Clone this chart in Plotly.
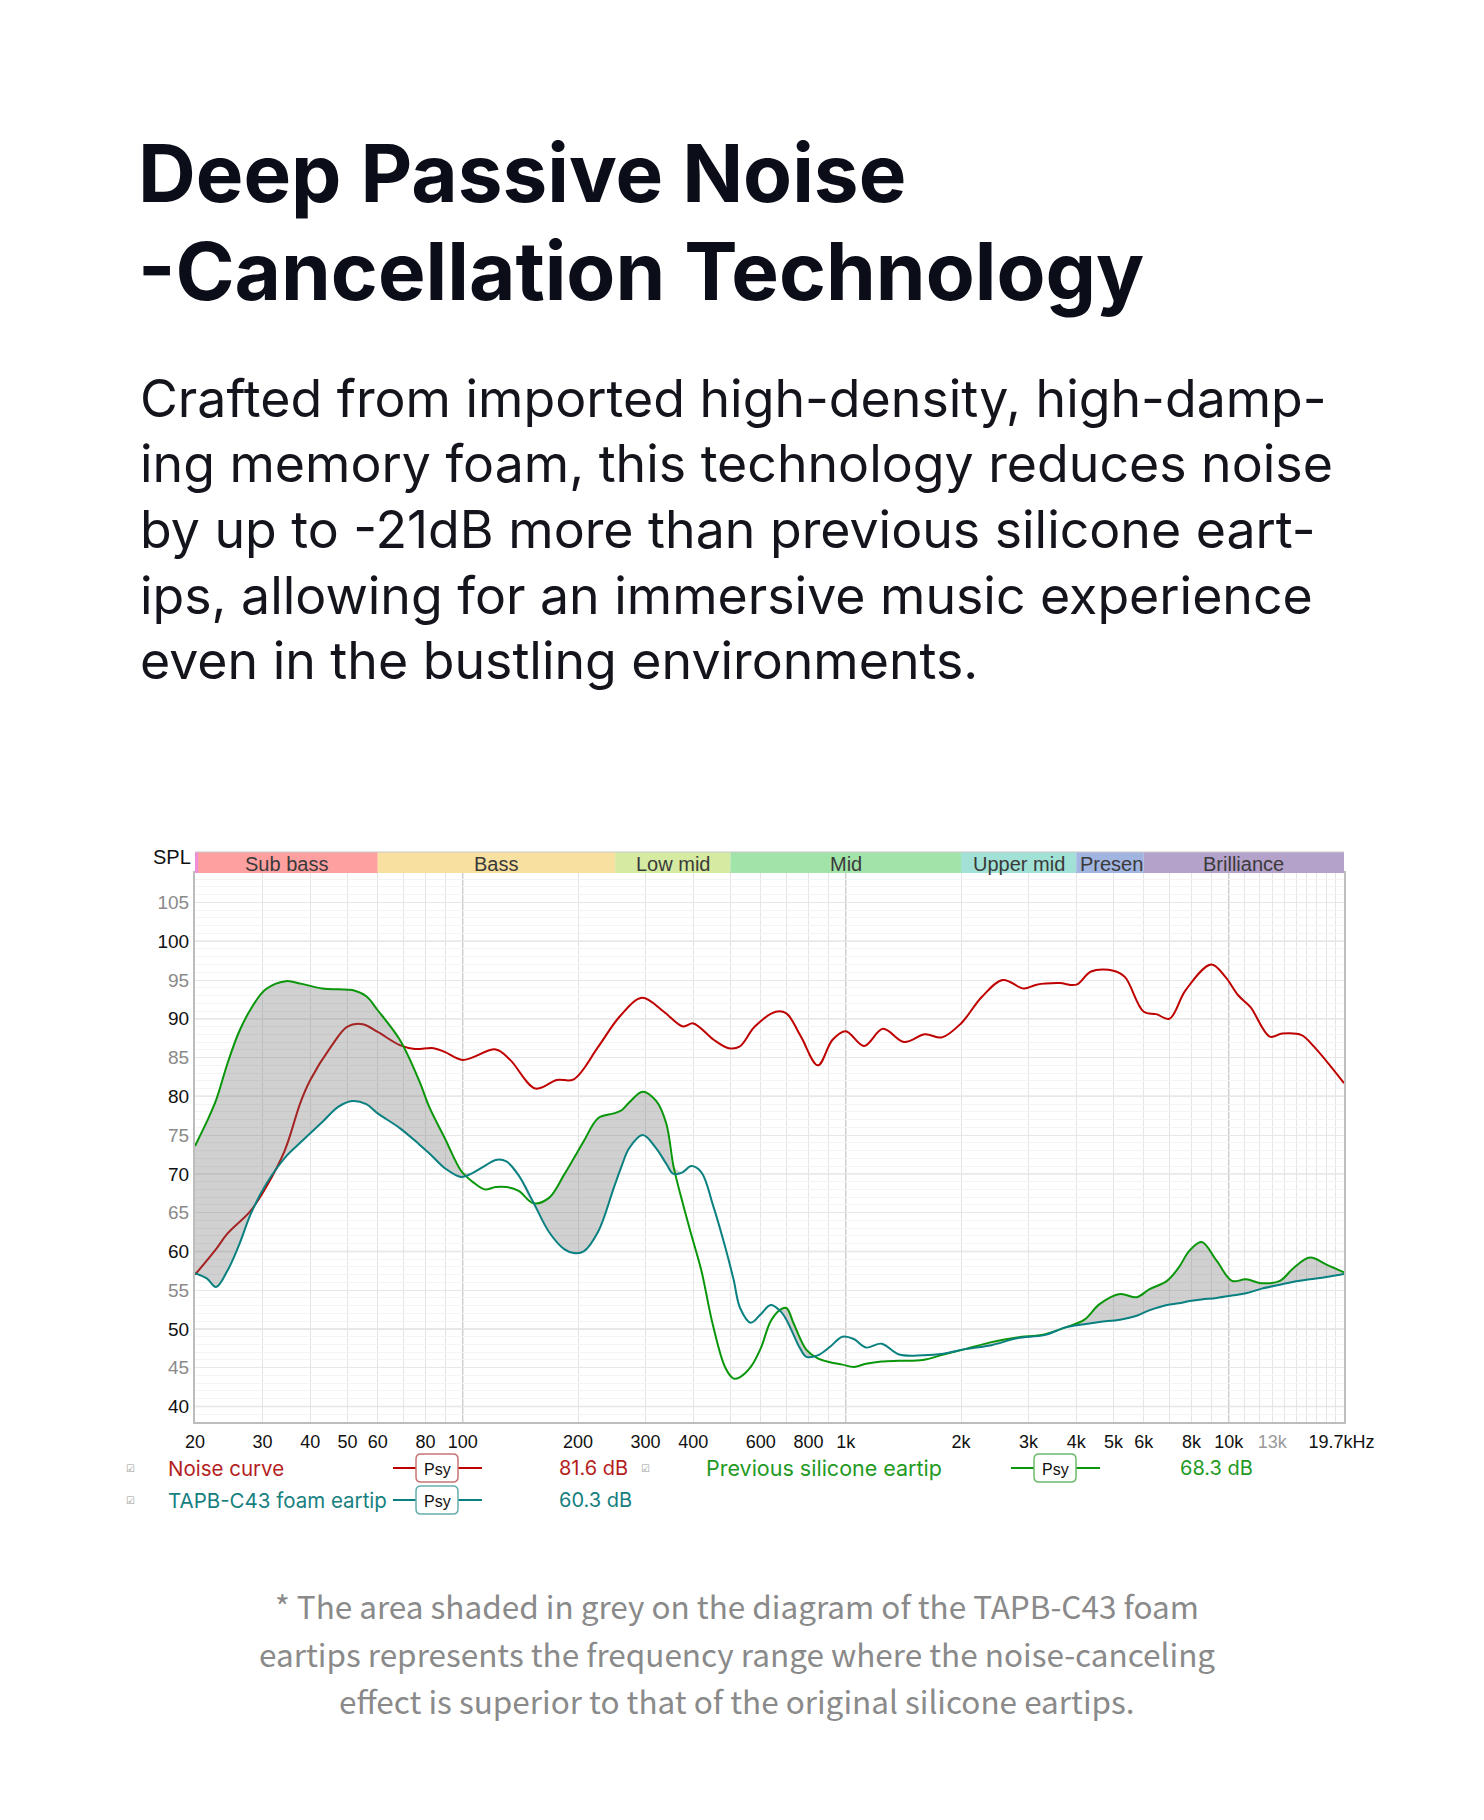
import math
import plotly.graph_objects as go

# page is 1484 x 1820; the browser body keeps its default 8px margin,
# so the figure is 16px smaller and page coordinates are shifted by 8px.
PAGE_W, PAGE_H = 1484, 1820
OFF = 8
W, H = PAGE_W - 2 * OFF, PAGE_H - 2 * OFF


def fx(x):
    return (x - OFF) / W


def fy(y):
    return 1 - (y - OFF) / H


# ---------------- data ----------------
noise_freq = [20, 22.7, 24.3, 27.9, 30.6, 34.3, 37.7, 40, 45.3, 50,
              54.8, 60, 68.5, 75, 84, 90, 100, 122, 133, 155,
              176, 195, 226, 257, 294, 335, 376, 400, 452, 495,
              528, 579, 657, 700, 764, 846, 924, 1000, 1117, 1251,
              1420, 1611, 1782, 2000, 2266, 2572, 2918, 3150, 3618, 4000,
              4372, 5000, 5355, 6000, 6470, 7000, 7720, 9000, 9800, 10600,
              11400, 12800, 13800, 15500, 16700, 20000]
noise_spl = [57.0, 60.3, 62.3, 65.2, 68.2, 73.0, 79.2, 82.1, 86.4, 89.0,
             89.3, 88.3, 86.6, 86.1, 86.2, 85.7, 84.7, 86.05, 84.7, 81.0,
             82.1, 82.2, 86.4, 90.3, 92.7, 90.9, 89.0, 89.4, 87.3, 86.2,
             86.4, 89.0, 90.9, 90.7, 87.7, 84.0, 87.3, 88.4, 86.5, 88.7,
             87.0, 88.0, 87.6, 89.4, 92.8, 95.0, 93.9, 94.4, 94.6, 94.4,
             96.1, 96.2, 95.4, 90.9, 90.6, 90.0, 93.7, 97.0, 95.4, 93.0,
             91.5, 87.7, 88.1, 87.9, 86.4, 81.7]

freq = [20, 21.5, 22.7, 24.3, 26, 28, 30.6, 34.5, 38, 43,
        47.5, 51.5, 56, 60, 68.5, 77, 82, 90, 99, 106,
        114, 122, 130, 140, 153, 168, 184, 195, 207, 226,
        248, 260, 272, 295, 320, 340, 355, 375, 395, 420,
        450, 485, 510, 530, 565, 600, 637, 675, 700, 730,
        760, 790, 845, 910, 980, 1050, 1130, 1240, 1380, 1590,
        1800, 2050, 2400, 2800, 3300, 3750, 4200, 4600, 5200, 5750,
        6200, 6900, 7400, 7900, 8500, 9300, 10200, 11100, 12200, 13600,
        14800, 16300, 18000, 20000]
silicone_spl = [73.6, 76.8, 79.5, 84.2, 88.2, 91.3, 93.8, 94.85, 94.5, 93.9,
                93.8, 93.7, 92.9, 91.1, 87.3, 82.0, 78.5, 74.5, 70.4, 69.0,
                68.0, 68.3, 68.3, 67.8, 66.2, 66.9, 69.9, 72.0, 74.2, 77.2,
                77.8, 78.2, 79.2, 80.6, 79.4, 76.5, 71.0, 66.3, 62.2, 57.5,
                50.5, 45.0, 43.6, 43.8, 45.1, 47.5, 51.0, 52.5, 52.7, 50.8,
                48.8, 47.3, 46.2, 45.7, 45.4, 45.1, 45.5, 45.8, 45.9, 46.0,
                46.7, 47.4, 48.3, 48.9, 49.3, 50.2, 51.2, 53.2, 54.5, 54.1,
                55.1, 56.2, 57.9, 60.1, 61.2, 58.8, 56.2, 56.4, 55.9, 56.2,
                57.9, 59.2, 58.3, 57.3]
foam_spl = [57.2, 56.5, 55.4, 57.5, 60.7, 64.9, 68.6, 72.2, 74.2, 76.7,
            78.7, 79.4, 79.0, 77.8, 75.9, 73.8, 72.6, 70.7, 69.6, 70.1,
            71.0, 71.8, 71.6, 69.8, 66.3, 62.5, 60.3, 59.8, 60.0, 62.6,
            68.2, 71.0, 73.3, 75.0, 73.3, 71.3, 70.0, 70.2, 71.0, 70.2,
            66.0, 60.5, 56.3, 52.7, 50.8, 51.9, 53.1, 52.3, 51.2, 49.3,
            47.5, 46.4, 46.6, 47.7, 49.0, 48.7, 47.6, 48.1, 46.7, 46.6,
            46.8, 47.4, 47.9, 48.8, 49.2, 50.2, 50.6, 50.9, 51.2, 51.7,
            52.4, 53.1, 53.3, 53.6, 53.8, 54.0, 54.3, 54.6, 55.2, 55.7,
            56.1, 56.4, 56.7, 57.1]

band_names = ["Sub bass", "Bass", "Low mid", "Mid", "Upper mid", "Presen", "Brilliance"]
band_edges = [20, 60, 250, 500, 2000, 4000, 6000, 20000]
band_colors = ["#FFA0A0", "#F8E0A0", "#D6EBA2", "#A2E3AA", "#A2E1D6", "#A2B4E0", "#B5A2CB"]

x_tick_vals = [20, 30, 40, 50, 60, 80, 100, 200, 300, 400, 600, 800,
               1000, 2000, 3000, 4000, 5000, 6000, 8000, 10000, 13000, 19700]
x_tick_text = ["20", "30", "40", "50", "60", "80", "100", "200", "300", "400", "600", "800",
               "1k", "2k", "3k", "4k", "5k", "6k", "8k", "10k",
               '<span style="color:#9a9a9a">13k</span>', "19.7kHz"]
grid_freqs = [20, 30, 40, 50, 60, 70, 80, 90,
              200, 300, 400, 500, 600, 700, 800, 900,
              2000, 3000, 4000, 5000, 6000, 7000, 8000, 9000,
              11000, 12000, 13000, 14000, 15000, 16000, 17000, 18000, 19000]
decade_freqs = [100, 1000, 10000]
y_tick_vals = [40, 45, 50, 55, 60, 65, 70, 75, 80, 85, 90, 95, 100, 105]
y_tick_text = ["40", '<span style="color:#8a8a8a">45</span>', "50",
               '<span style="color:#8a8a8a">55</span>', "60",
               '<span style="color:#8a8a8a">65</span>', "70",
               '<span style="color:#8a8a8a">75</span>', "80",
               '<span style="color:#8a8a8a">85</span>', "90",
               '<span style="color:#8a8a8a">95</span>', "100",
               '<span style="color:#8a8a8a">105</span>']
y_major10 = [40, 50, 60, 70, 80, 90, 100]

legend_names = ["Noise curve", "TAPB-C43 foam eartip", "Previous silicone eartip"]
legend_values = ["81.6 dB", "60.3 dB", "68.3 dB"]
legend_text_colors = ["#b41e1e", "#168080", "#1f9a1f"]
legend_box_colors = ["#c77474", "#66adad", "#6cba6c"]

title_lines = ["Deep Passive Noise", "-Cancellation Technology"]
body_lines = ["Crafted from imported high-density, high-damp-",
              "ing memory foam, this technology reduces noise",
              "by up to -21dB more than previous silicone eart-",
              "ips, allowing for an immersive music experience",
              "even in the bustling environments."]
note_lines = ["* The area shaded in grey on the diagram of the TAPB-C43 foam",
              "eartips represents the frequency range where the noise-canceling",
              "effect is superior to that of the original silicone eartips."]

RED, GREEN, TEAL = "#bf0000", "#0a960a", "#0a8080"

# ---------------- figure ----------------
fig = go.Figure()
fig.add_trace(go.Scatter(x=noise_freq, y=noise_spl, mode="lines",
                         line=dict(color=RED, width=2, shape="spline", smoothing=1),
                         hoverinfo="skip"))
fig.add_trace(go.Scatter(x=freq, y=foam_spl, mode="lines",
                         line=dict(color="rgba(0,0,0,0)", width=0, shape="spline", smoothing=1),
                         hoverinfo="skip"))
upper = [max(a, b) for a, b in zip(silicone_spl, foam_spl)]
fig.add_trace(go.Scatter(x=freq, y=upper, mode="lines", fill="tonexty",
                         fillcolor="rgba(110,110,110,0.32)",
                         line=dict(color="rgba(0,0,0,0)", width=0, shape="spline", smoothing=1),
                         hoverinfo="skip"))
fig.add_trace(go.Scatter(x=freq, y=silicone_spl, mode="lines",
                         line=dict(color=GREEN, width=2, shape="spline", smoothing=1),
                         hoverinfo="skip"))
fig.add_trace(go.Scatter(x=freq, y=foam_spl, mode="lines",
                         line=dict(color=TEAL, width=2, shape="spline", smoothing=1),
                         hoverinfo="skip"))

PL, PR, PT, PB = 195, 1344, 873, 1422
AX_FONT = "Liberation Sans, Arial, sans-serif"

shapes = []
annotations = []

# header bands
for name, c, a, b in zip(band_names, band_colors, band_edges[:-1], band_edges[1:]):
    shapes.append(dict(type="rect", xref="x", yref="paper", x0=a, x1=b,
                       y0=fy(PT), y1=fy(852), fillcolor=c, line=dict(width=0), layer="above"))
    if name == "Presen":
        xa, xan = math.log10(a) + 0.004, "left"
    else:
        xa, xan = (math.log10(a) + math.log10(b)) / 2, "center"
    annotations.append(dict(text=name, xref="x", yref="paper", x=xa, xanchor=xan,
                            y=fy(864), yanchor="middle", showarrow=False,
                            font=dict(family=AX_FONT, size=20, color="#3a3a3a")))
shapes.append(dict(type="rect", xref="paper", yref="paper", x0=fx(195), x1=fx(198),
                   y0=fy(PT), y1=fy(852), fillcolor="#EE90D8", line=dict(width=0), layer="above"))
shapes.append(dict(type="line", xref="paper", yref="paper", x0=fx(PL), x1=fx(PR),
                   y0=fy(852), y1=fy(852), line=dict(color="#c8c8c8", width=1), layer="above"))

# emphasised grid lines
for f in decade_freqs:
    shapes.append(dict(type="line", xref="x", yref="paper", x0=f, x1=f, y0=fy(PB), y1=fy(PT),
                       line=dict(color="#cfcfcf", width=1.5), layer="between"))
for v in y_major10:
    shapes.append(dict(type="line", xref="paper", yref="y", x0=fx(PL), x1=fx(PR), y0=v, y1=v,
                       line=dict(color="#dedede", width=1.5), layer="between"))

annotations.append(dict(text="SPL", xref="paper", yref="paper", x=fx(193), xanchor="right",
                        y=fy(857), yanchor="middle", showarrow=False,
                        font=dict(family=AX_FONT, size=20, color="#111")))

# title & body
for i, t in enumerate(title_lines):
    annotations.append(dict(text=t, xref="paper", yref="paper", x=fx(136), xanchor="left",
                            y=fy([172, 270][i]), yanchor="middle", showarrow=False,
                            font=dict(family="Inter", size=80, color="#0b0d18", weight=700)))
for i, t in enumerate(body_lines):
    annotations.append(dict(text=t, xref="paper", yref="paper", x=fx(138), xanchor="left",
                            y=fy(398 + 65.5 * i), yanchor="middle", showarrow=False,
                            font=dict(family="Inter", size=51.8, color="#14151c")))
for i, t in enumerate(note_lines):
    annotations.append(dict(text=t, xref="paper", yref="paper", x=fx(737), xanchor="center",
                            y=fy(1605 + 47.5 * i), yanchor="middle", showarrow=False,
                            font=dict(family="Noto Sans CJK SC", size=31.5, color="#8a8a8a")))


# legend
def rounded_rect(x0, y0, x1, y1, r):
    X0, X1, Y0, Y1 = fx(x0), fx(x1), fy(y0), fy(y1)
    rx, ry = r / W, r / H
    return (f"M {X0+rx},{Y0} L {X1-rx},{Y0} Q {X1},{Y0} {X1},{Y0-ry} "
            f"L {X1},{Y1+ry} Q {X1},{Y1} {X1-rx},{Y1} L {X0+rx},{Y1} "
            f"Q {X0},{Y1} {X0},{Y1+ry} L {X0},{Y0-ry} Q {X0},{Y0} {X0+rx},{Y0} Z")


legend_layout = [  # (check x, name x, name size, psy center x, value x, row y)
    (130, 166, 20.5, 437, 557, 1468),
    (130, 166, 20.5, 437, 557, 1500),
    (645, 704, 21.5, 1055, 1178, 1468),
]
LEG_LINE = [RED, TEAL, GREEN]
for (cx, nx, ns, pcx, vx, ry), name, val, tc, bc, lc in zip(
        legend_layout, legend_names, legend_values, legend_text_colors, legend_box_colors, LEG_LINE):
    annotations.append(dict(text="☑", xref="paper", yref="paper", x=fx(cx), y=fy(ry),
                            xanchor="center", yanchor="middle", showarrow=False,
                            font=dict(family="DejaVu Sans", size=10, color="#9a9a9a")))
    annotations.append(dict(text=name, xref="paper", yref="paper", x=fx(nx), y=fy(ry),
                            xanchor="left", yanchor="middle", showarrow=False,
                            font=dict(family="Inter", size=ns, color=tc)))
    annotations.append(dict(text=val, xref="paper", yref="paper", x=fx(vx), y=fy(ry),
                            xanchor="left", yanchor="middle", showarrow=False,
                            font=dict(family="Inter", size=20, color=tc)))
    shapes.append(dict(type="line", xref="paper", yref="paper", x0=fx(pcx - 44), x1=fx(pcx - 21),
                       y0=fy(ry), y1=fy(ry), line=dict(color=lc, width=2)))
    shapes.append(dict(type="line", xref="paper", yref="paper", x0=fx(pcx + 21), x1=fx(pcx + 45),
                       y0=fy(ry), y1=fy(ry), line=dict(color=lc, width=2)))
    shapes.append(dict(type="path", xref="paper", yref="paper",
                       path=rounded_rect(pcx - 21, ry - 14, pcx + 21, ry + 14, 5),
                       fillcolor="white", line=dict(color=bc, width=1.5)))
    annotations.append(dict(text="Psy", xref="paper", yref="paper", x=fx(pcx), y=fy(ry + 1),
                            xanchor="center", yanchor="middle", showarrow=False,
                            font=dict(family=AX_FONT, size=16, color="#111")))

fig.update_layout(
    width=W, height=H,
    margin=dict(l=0, r=0, t=0, b=0, autoexpand=False),
    paper_bgcolor="white", plot_bgcolor="white",
    showlegend=False,
    shapes=shapes, annotations=annotations,
    xaxis=dict(type="log", range=[math.log10(20), math.log10(20000)],
               domain=[fx(PL), fx(PR)], automargin=False,
               tickvals=x_tick_vals, ticktext=x_tick_text,
               tickfont=dict(family=AX_FONT, size=18, color="#111"),
               ticks="outside", ticklen=2, tickcolor="rgba(0,0,0,0)",
               showgrid=False, zeroline=False,
               minor=dict(tickvals=grid_freqs, showgrid=True, gridcolor="#e4e4e4",
                          gridwidth=1, ticks=""),
               showline=True, linecolor="#bdbdbd", linewidth=2, mirror=True,
               fixedrange=True),
    yaxis=dict(range=[38, 108.8], domain=[fy(PB), fy(PT)], automargin=False,
               tickvals=y_tick_vals, ticktext=y_tick_text,
               tickfont=dict(family=AX_FONT, size=19, color="#111"),
               ticks="", showgrid=True, gridcolor="#e8e8e8", gridwidth=1,
               minor=dict(dtick=1, showgrid=True, gridcolor="#f4f4f4", gridwidth=1),
               zeroline=False,
               showline=True, linecolor="#bdbdbd", linewidth=2, mirror=True,
               fixedrange=True),
)

fig.write_html("out.html", config={"displayModeBar": False})
